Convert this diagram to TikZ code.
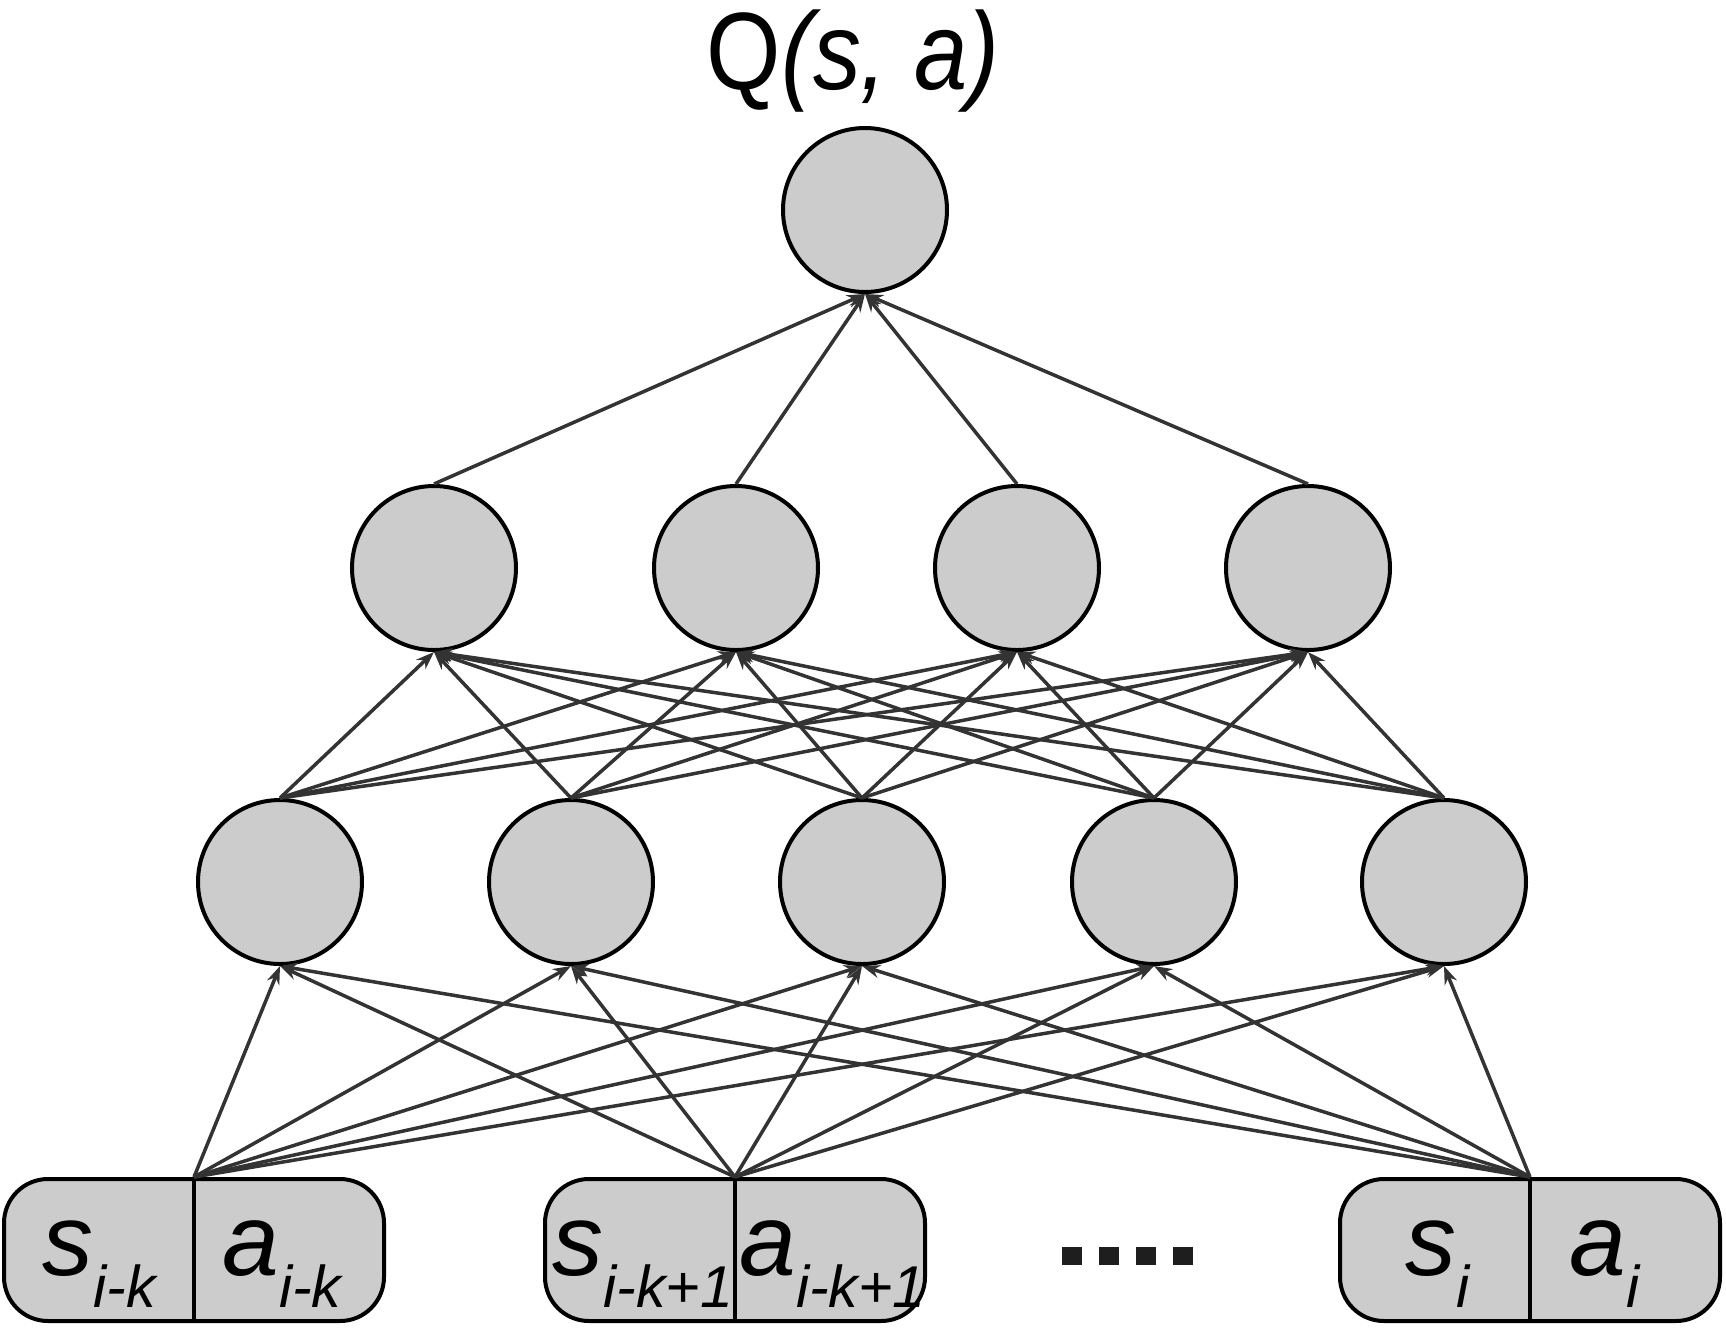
\documentclass[tikz,border=0pt]{standalone}
\usepackage{fontspec}
\usepackage{graphicx}
\setmainfont{Liberation Sans}
\usetikzlibrary{arrows.meta}
\definecolor{nfill}{RGB}{204,204,204}
\definecolor{lgray}{RGB}{51,51,51}
\definecolor{dotc}{RGB}{30,30,30}
\newcommand{\subf}{\fontsize{29.5}{32}\selectfont\itshape}
\newcommand{\lbl}[2]{#1\raisebox{-16pt}{\subf #2}}
\begin{document}
\begin{tikzpicture}[x=0.5pt,y=-0.5pt,
 neuron/.style={circle,draw=black,line width=2pt,fill=nfill,minimum size=82pt,inner sep=0pt},
 inbox/.style={draw=black,line width=2pt,fill=nfill,rounded corners=22pt,minimum width=190pt,minimum height=71pt,inner sep=0pt},
 conn/.style={draw=lgray,line width=1.75pt,-{Stealth[length=9pt,width=6.5pt]}},
 bigtxt/.style={font=\fontsize{51}{56}\selectfont\itshape,inner sep=0pt,anchor=base west},
 title/.style={font=\fontsize{55}{60}\selectfont,inner sep=0pt,anchor=base}]
\useasboundingbox (0,0) rectangle (1726,1341);
% output
\node[neuron] (o) at (865,210) {};
\node[title] (q) at (853,89) {\scalebox{0.87}[1]{Q\textit{(s, a)}}};
% hidden 2
\foreach \i/\x in {1/434,2/736,3/1017,4/1308}
  \node[neuron] (h2\i) at (\x,568) {};
% hidden 1
\foreach \i/\x in {1/280,2/571,3/862,4/1154,5/1444}
  \node[neuron] (h1\i) at (\x,882) {};
% inputs
\foreach \i/\x in {1/194,2/735,3/1530}{
  \node[inbox] (b\i) at (\x,1250) {};
  \draw[line width=2pt] (b\i.north) -- (b\i.south);
}
% texts
\node[bigtxt] (s1) at (42,1275) {\lbl{s}{i-k}};
\node[bigtxt] (a1) at (222,1275) {\lbl{a}{i-k}};
\node[bigtxt] (s2) at (552,1275) {\lbl{s}{i-k+1}};
\node[bigtxt] (a2) at (739,1275) {\lbl{a}{i-k+1}};
\node[bigtxt] (s3) at (1405,1275) {\lbl{s}{i}};
\node[bigtxt] (a3) at (1569,1275) {\lbl{a}{i}};
% dots
\foreach \x in {1062,1099,1136,1173}
  \fill[dotc] (\x,1247) rectangle ++(20,18);
% connections
\foreach \b in {1,2,3}
  \foreach \h in {1,...,5}
    \draw[conn] (b\b.north) -- (h1\h.south);
\foreach \a in {1,...,5}
  \foreach \h in {1,...,4}
    \draw[conn] (h1\a.north) -- (h2\h.south);
\foreach \h in {1,...,4}
  \draw[conn] (h2\h.north) -- (o.south);
\end{tikzpicture}
\end{document}
